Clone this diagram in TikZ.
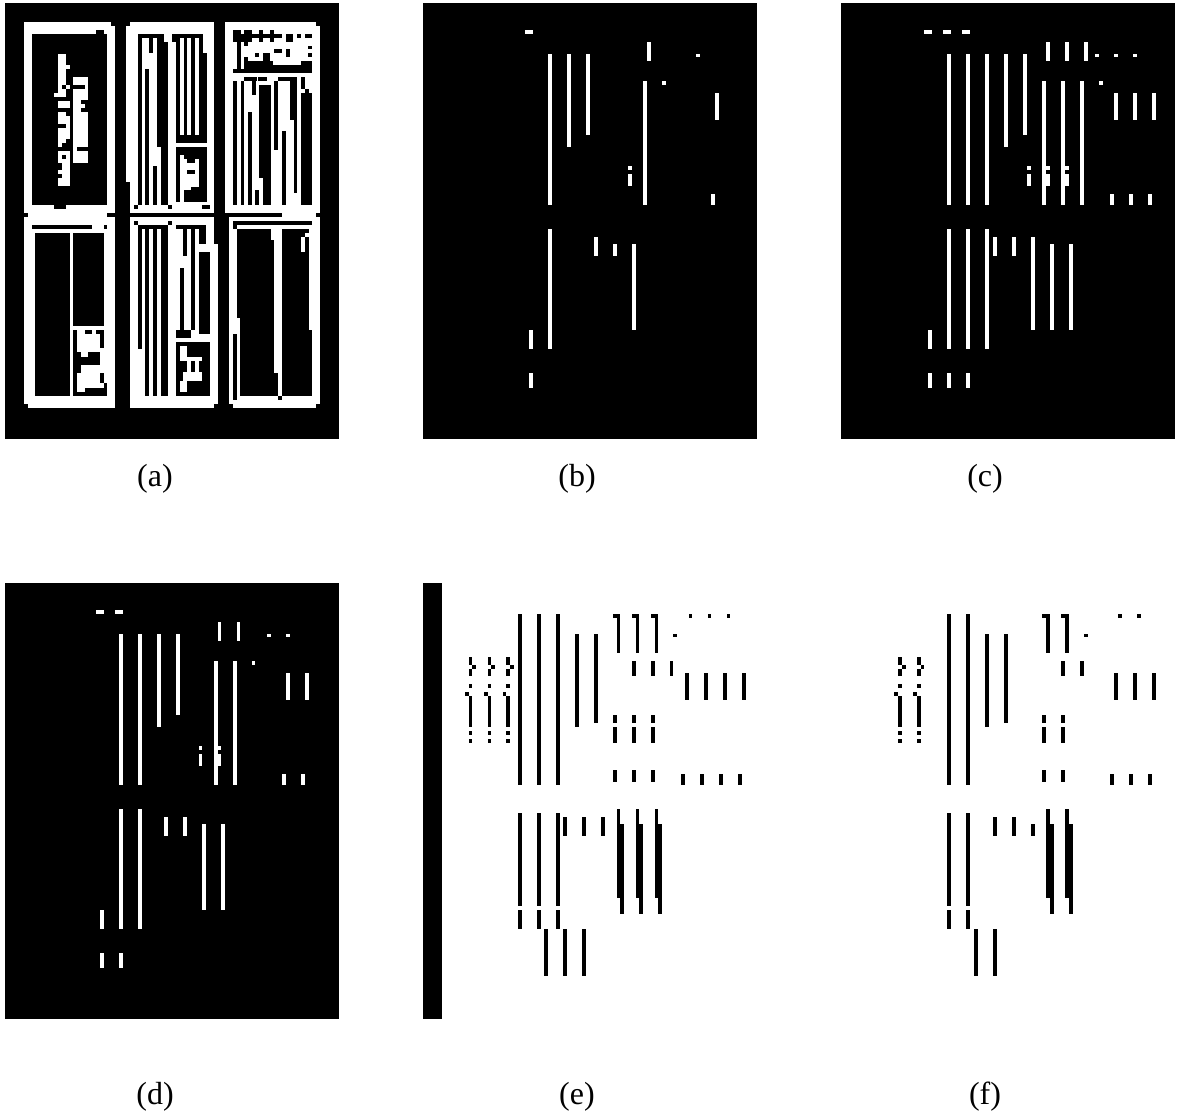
\documentclass[tikz,border=0pt]{standalone}
\usepackage{fontspec}
\setmainfont{Liberation Serif}
\newcommand{\blocks}[2]{\foreach \xa/\ya/\xb/\yb in {#2} \fill[#1] (\xa,\ya) rectangle (\xb,\yb);}
\begin{document}
\begin{tikzpicture}[
    x=0.5pt,y=-0.5pt,
    ink/.style = {black},
    paper/.style = {white},
    capt/.style = {font=\fontsize{16}{18}\selectfont, inner sep=0pt},
  ]
  \useasboundingbox (0,0) rectangle (1178,1118);

  % panel a
  \begin{scope}[scale=1/3]
    \blocks{ink}{15/9/1017/1317}
    \blocks{paper}{72/66/333/78, 72/78/345/639, 84/639/321/651, 72/651/345/1212, 84/1212/345/1224,
      390/66/642/78, 378/78/642/545, 390/545/642/639, 390/651/642/732, 390/732/654/1212, 390/1212/642/1224,
      675/66/948/78, 675/78/960/639, 846/639/948/651, 687/651/960/1212, 699/1212/948/1224}
    % left door
    \blocks{ink}{96/102/321/615, 288/90/312/102, 162/615/198/627,
      96/675/276/687, 312/675/321/687, 105/699/210/1188, 219/699/312/978,
      219/990/231/1188, 255/990/276/1002, 288/990/312/1002, 300/1002/312/1045,
      231/1057/243/1070, 264/1057/300/1070, 219/1070/300/1095, 219/1095/243/1118,
      300/1118/312/1150, 255/1163/312/1188, 312/1150/321/1188, 231/1175/255/1188}
    \blocks{paper}{174/162/198/255, 198/195/210/207, 174/255/186/267, 198/255/210/267, 174/267/198/279, 162/279/198/290,
      174/302/210/325, 174/337/198/348, 174/348/210/372, 198/372/210/384, 174/384/210/418, 174/418/198/430, 174/430/186/441,
      174/453/210/465, 174/465/186/476, 198/465/210/476, 174/476/210/488, 186/488/210/510, 174/510/210/522, 186/522/210/534, 174/534/210/557,
      219/231/265/255, 255/255/265/267, 219/267/265/300, 219/300/243/337, 243/312/255/325, 219/337/265/395, 219/395/265/441, 219/441/231/453, 219/453/265/488}
    % middle door
    \blocks{ink}{414/102/492/114, 414/114/426/615, 447/114/459/160, 435/207/447/615, 459/497/471/615,
      471/114/492/125, 471/125/504/440, 482/440/504/615,
      402/615/414/627, 504/615/516/627, 606/615/630/627, 378/639/642/651,
      516/102/608/114, 516/114/528/125, 528/114/540/405, 551/114/562/405, 574/114/585/405, 597/114/608/160, 597/160/620/405, 528/405/620/430,
      528/441/620/605,
      402/663/414/675, 504/663/516/675, 414/675/504/687, 414/687/426/1047, 435/687/447/1188, 459/687/471/1188, 483/687/504/1188,
      528/675/618/687, 548/687/560/767, 573/687/585/990, 597/687/618/732, 597/755/630/1002, 540/803/552/990, 528/990/573/1015, 528/1025/630/1188}
    \blocks{paper}{540/465/552/605, 552/488/597/560, 552/476/562/488, 585/476/597/488, 552/560/574/570,
      540/1037/562/1070, 540/1070/607/1082, 562/1082/573/1117, 585/1082/597/1117, 550/1117/607/1142, 540/1142/562/1175}
    \blocks{ink}{562/510/585/522}
    % right door
    \blocks{ink}{699/90/722/102, 732/90/755/102, 777/90/790/102, 810/90/822/102,
      699/102/847/114, 858/102/880/114, 892/102/903/114, 915/102/936/114,
      699/114/757/125, 777/114/790/125, 810/114/822/125, 858/114/880/125,
      732/125/745/137, 711/125/723/207, 765/160/777/172, 822/148/847/160, 858/148/870/172, 925/137/936/148, 925/160/936/172,
      732/172/745/195, 745/183/757/195, 757/183/790/195, 790/160/810/195, 810/183/820/195, 903/183/936/207, 732/195/936/207, 699/207/936/218,
      699/242/710/615, 722/242/733/615, 745/336/756/615, 733/230/770/242, 755/242/768/285,
      775/230/800/242, 778/255/812/535, 789/535/812/615, 766/570/778/615,
      822/242/835/450, 835/230/892/242, 847/393/858/615, 870/242/881/360, 881/242/892/580,
      903/230/915/268, 915/268/927/280, 903/280/936/615,
      675/639/846/651, 948/639/960/651, 699/663/936/675, 699/675/711/687}
    \blocks{ink}{711/687/927/953, 720/953/927/990, 720/990/936/1188, 699/1002/711/1200, 834/1188/846/1200}
    \blocks{paper}{813/687/846/720, 823/720/846/1120, 835/1120/846/1188, 903/710/915/755, 915/699/927/710}
    \blocks{ink}{915/687/927/699}
  \end{scope}

  % panel b
  \begin{scope}[shift={(420,0)},scale=1/3]
    \blocks{ink}{9/9/1011/1317}
    \blocks{paper}{315/90/339/102, 384/162/396/615, 441/162/453/441, 498/162/510/405, 681/126/693/183, 828/162/840/171,
      669/243/681/615, 726/243/738/255, 885/279/897/360, 624/498/636/510, 624/522/636/558, 873/582/885/615,
      384/687/396/1047, 522/711/534/768, 579/732/591/768, 636/732/648/990, 327/990/339/1047, 327/1119/339/1164}
  \end{scope}

  % panel c
  \begin{scope}[shift={(838,0)},scale=1/3]
    \blocks{ink}{9/9/1011/1317}
    \blocks{paper}{258/90/282/102, 315/90/339/102, 372/90/396/102,
      327/162/339/615, 384/162/396/615, 441/162/453/615, 498/162/510/441, 555/162/567/405,
      624/126/636/183, 681/126/693/183, 738/126/750/183, 771/162/783/171, 828/162/840/171, 885/162/897/171,
      612/243/624/615, 669/243/681/615, 726/243/738/615, 783/243/795/255,
      828/279/840/360, 885/279/897/360, 942/279/954/360,
      567/498/579/510, 567/522/579/558, 624/498/636/510, 624/522/636/558, 681/498/693/510, 681/522/693/558,
      816/582/828/615, 873/582/885/615, 930/582/942/615,
      327/687/339/1047, 384/687/396/1047, 441/687/453/1047, 465/711/477/768, 522/711/534/768,
      579/711/591/990, 636/732/648/990, 693/732/705/990,
      270/990/282/1047, 270/1119/282/1164, 327/1119/339/1164, 384/1119/396/1164}
  \end{scope}

  % panel d
  \begin{scope}[shift={(0,580)},scale=1/3]
    \blocks{ink}{15/9/1017/1317}
    \blocks{paper}{288/90/312/102, 345/90/369/102,
      357/162/369/615, 414/162/426/615, 471/162/483/441, 528/162/540/405,
      654/126/663/183, 711/126/720/183, 801/162/813/171, 858/162/870/171,
      642/243/654/615, 699/243/711/615, 756/243/765/255, 858/279/870/360, 915/279/927/360,
      597/498/606/510, 597/522/606/558, 654/498/663/510, 654/522/663/558,
      846/582/858/615, 903/582/915/615,
      357/687/369/1047, 414/687/426/1047, 492/711/504/768, 549/711/561/768,
      606/732/618/990, 663/732/675/990, 300/990/312/1047, 300/1119/312/1164, 357/1119/369/1164}
  \end{scope}

  % panel e
  \begin{scope}[shift={(420,580)},scale=1/3]
    \blocks{ink}{9/9/66/1317,
      147/231/156/255, 156/255/168/267, 147/267/156/288,
      204/231/213/255, 213/255/225/267, 204/267/213/288,
      258/231/270/255, 270/255/282/267, 258/267/270/288,
      147/312/156/324, 204/312/213/324, 258/312/270/324,
      135/336/147/348, 192/336/204/348, 249/336/258/348,
      147/348/156/441, 204/348/213/441, 258/348/270/441,
      147/453/156/465, 204/453/213/465, 258/453/270/465,
      147/477/156/489, 204/477/213/489, 258/477/270/489,
      294/102/306/615, 351/102/363/615, 408/102/420/615,
      465/162/477/441, 522/162/534/429,
      579/102/600/114, 591/114/600/219, 636/102/657/114, 648/114/657/219, 693/102/714/114, 705/114/714/219,
      759/162/771/171, 807/102/816/114, 864/102/873/114, 921/102/930/114,
      636/243/648/288, 693/243/705/288, 750/243/759/288,
      795/279/807/360, 852/279/864/360, 909/279/921/360, 966/279/978/360,
      579/405/591/429, 636/405/648/429, 693/405/705/429,
      579/441/591/489, 636/441/648/489, 693/441/705/489,
      579/570/591/606, 636/570/648/606, 693/570/705/606,
      783/582/795/615, 840/582/852/615, 897/582/909/615, 954/582/966/615,
      294/699/306/978, 351/699/363/978, 408/699/420/978,
      429/711/441/768, 486/711/498/768, 543/711/555/768,
      591/687/600/732, 591/732/612/954, 600/954/612/1002,
      648/687/657/732, 648/732/669/954, 657/954/669/1002,
      705/687/714/732, 705/732/726/954, 714/954/726/1002,
      294/990/306/1047, 351/990/363/1047, 408/990/420/1047,
      372/1047/384/1188, 429/1047/441/1188, 486/1047/498/1188}
  \end{scope}

  % panel f
  \begin{scope}[shift={(838,580)},scale=1/3]
    \blocks{ink}{180/231/192/255, 192/255/204/267, 180/267/192/288,
      237/231/249/255, 249/255/258/267, 237/267/249/288,
      180/312/192/324, 237/312/249/324, 168/336/180/348, 225/336/237/348,
      180/348/192/441, 237/348/249/441, 180/453/192/465, 237/453/249/465, 180/477/192/489, 237/477/249/489,
      327/102/339/615, 384/102/396/615, 441/162/453/441, 498/162/510/429,
      612/102/636/114, 624/114/636/219, 669/102/693/114, 681/114/693/219,
      738/162/750/171, 840/102/852/114, 897/102/909/114,
      669/243/681/288, 726/243/738/288,
      828/279/840/360, 885/279/897/360, 942/279/954/360,
      612/405/624/429, 669/405/681/429, 612/441/624/489, 669/441/681/489, 612/570/624/606, 669/570/681/606,
      816/582/828/615, 873/582/885/615, 930/582/942/615,
      327/699/339/978, 384/699/396/978, 327/990/339/1047, 384/990/396/1047,
      465/711/477/768, 522/711/534/768, 579/732/591/768,
      624/687/636/732, 624/732/648/954, 636/954/648/1002,
      681/687/693/732, 681/732/705/954, 693/954/705/1002,
      408/1047/420/1188, 465/1047/477/1188}
  \end{scope}

  \node[capt] (capa) at (155,479) {(a)};
  \node[capt] (capb) at (577,479) {(b)};
  \node[capt] (capc) at (985,479) {(c)};
  \node[capt] (capd) at (155,1097) {(d)};
  \node[capt] (cape) at (577,1097) {(e)};
  \node[capt] (capf) at (985,1097) {(f)};
\end{tikzpicture}
\end{document}
